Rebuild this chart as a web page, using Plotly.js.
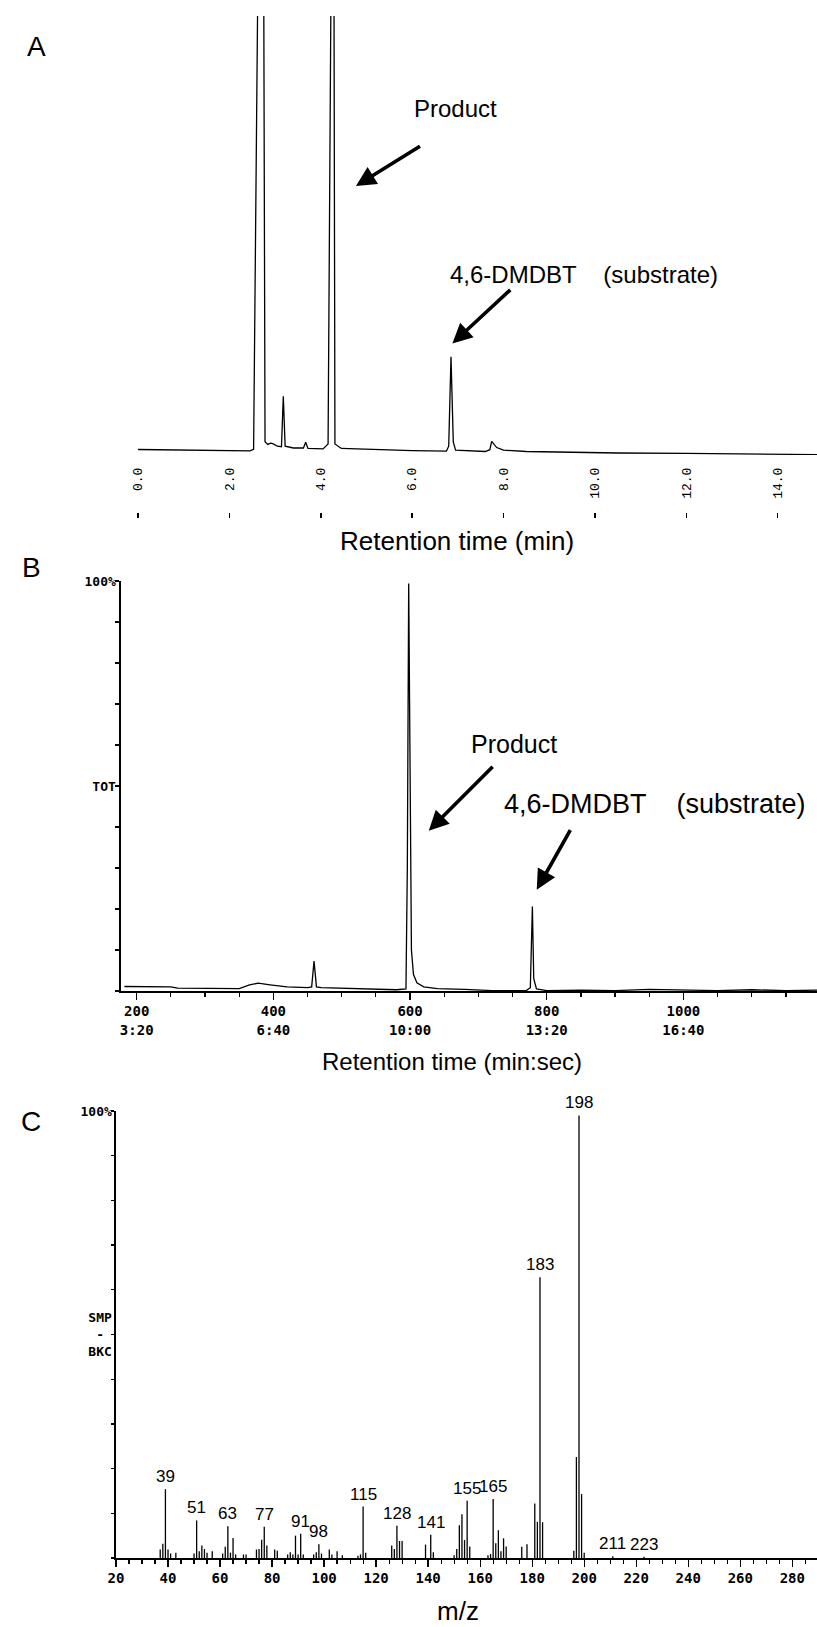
<!DOCTYPE html>
<html>
<head>
<meta charset="utf-8">
<script src="https://cdn.plot.ly/plotly-3.0.1.min.js"></script>
<style>html,body{margin:0;padding:0;background:#fff;}#chart{width:817px;height:1627px;}</style>
</head>
<body>
<div id="chart"></div>
<script>
// ---------- Panel A : GC chromatogram ----------
const A_time = [0, 1.0, 2.0, 2.45, 2.53, 2.66, 2.74, 2.78, 2.84, 2.9, 2.95, 3.05, 3.14, 3.18, 3.22, 3.4, 3.62, 3.67, 3.72, 4.05, 4.16, 4.25, 4.28, 4.31, 4.45, 5.0, 6.0, 6.75, 6.8, 6.85, 6.9, 6.95, 7.6, 7.7, 7.74, 7.85, 8.0, 8.5, 9.5, 10.5, 12.0, 13.0, 14.0, 14.86];
const A_signal = [1.25, 1.15, 1.0, 0.95, 1.3, 150, 150, 3.0, 2.4, 2.7, 2.6, 2.0, 1.9, 13.4, 2.0, 1.6, 1.6, 2.9, 1.5, 1.4, 2.5, 150, 150, 2.5, 1.5, 1.3, 1.0, 0.9, 2.0, 22.4, 3.0, 1.1, 0.8, 1.2, 3.1, 1.7, 1.1, 0.8, 0.6, 0.45, 0.35, 0.3, 0.15, 0.1];
const A_ticks = [0, 2, 4, 6, 8, 10, 12, 14];

// ---------- Panel B : GC-MS total ion chromatogram ----------
const B_scan = [182, 250, 260, 330, 350, 365, 378, 395, 420, 450, 456, 459.5, 463, 470, 520, 560, 580, 594, 596, 598, 600, 602, 605, 610, 620, 640, 680, 700, 720, 770, 776, 779, 781, 785, 800, 850, 900, 950, 1000, 1050, 1100, 1150, 1200];
const B_tic = [1.1, 1.0, 0.7, 0.5, 0.6, 1.5, 1.9, 1.5, 1.0, 0.8, 1.0, 7.3, 1.0, 0.8, 0.6, 0.5, 0.3, 0.5, 30, 99.4, 40, 10, 4, 2, 1.0, 0.6, 0.4, 0.3, 0.1, 0.1, 0.8, 20.6, 3, 0.5, 0.1, 0.2, 0.1, 0.4, 0.2, 0.1, 0.3, 0.1, 0.2];
const B_tickVals = [200, 400, 600, 800, 1000];
const B_tickText = ['200<br>3:20', '400<br>6:40', '600<br>10:00', '800<br>13:20', '1000<br>16:40'];

// ---------- Panel C : mass spectrum ----------
const C_mz = [37, 38, 39, 40, 41, 43, 50, 51, 52, 53, 54, 55, 57, 61, 62, 63, 64, 65, 66, 69, 70, 74, 75, 76, 77, 78, 81, 82, 86, 87, 88, 89, 90, 91, 92, 96, 97, 98, 99, 102, 103, 105, 107, 113, 114, 115, 116, 126, 127, 128, 129, 130, 139, 141, 142, 150, 151, 152, 153, 154, 155, 156, 163, 164, 165, 166, 167, 168, 169, 170, 176, 178, 181, 182, 183, 184, 196, 197, 198, 199, 200, 211, 223];
const C_int = [1.9, 3.2, 15.4, 1.9, 1.0, 1.2, 1.0, 8.4, 1.5, 2.8, 2.0, 1.2, 1.5, 1.0, 2.5, 7.1, 1.2, 4.5, 0.8, 0.8, 0.8, 1.9, 2.0, 4.1, 7.0, 2.8, 1.9, 1.6, 0.8, 1.3, 0.8, 5.0, 0.8, 5.4, 0.8, 0.8, 1.3, 3.1, 1.0, 1.9, 0.8, 1.5, 0.6, 0.5, 0.8, 11.5, 1.2, 2.8, 2.0, 7.2, 3.8, 3.8, 3.0, 5.2, 1.3, 0.6, 2.0, 7.3, 9.8, 4.0, 12.8, 2.6, 0.6, 0.9, 13.2, 3.3, 6.2, 1.5, 4.4, 2.6, 2.5, 3.1, 12.2, 8.1, 62.8, 8.0, 1.6, 22.6, 99.0, 14.3, 1.2, 0.4, 0.3];
const C_peakLabels = [39, 51, 63, 77, 91, 98, 115, 128, 141, 155, 165, 183, 198, 211, 223];
const C_tickVals = [20, 40, 60, 80, 100, 120, 140, 160, 180, 200, 220, 240, 260, 280];

// ---------- build ----------
const W = 817, H = 1627;
const fx = p => p / W;
const fy = p => 1 - p / H;

const stickX = [], stickY = [];
C_mz.forEach((m, i) => { stickX.push(m, m, null); stickY.push(0, C_int[i], null); });

const traces = [
  {x: A_time, y: A_signal, xaxis: 'x', yaxis: 'y', type: 'scatter', mode: 'lines',
   line: {color: '#000', width: 1.3}, hoverinfo: 'skip'},
  // empty trace so that the tick-only axis of panel A gets drawn
  {x: [], y: [], xaxis: 'x2', yaxis: 'y', type: 'scatter', mode: 'lines', hoverinfo: 'skip'},
  {x: B_scan, y: B_tic, xaxis: 'x3', yaxis: 'y3', type: 'scatter', mode: 'lines',
   line: {color: '#000', width: 1.3}, hoverinfo: 'skip'},
  {x: stickX, y: stickY, xaxis: 'x4', yaxis: 'y4', type: 'scatter', mode: 'lines',
   connectgaps: false, line: {color: '#000', width: 1.3}, hoverinfo: 'skip'}
];

const mono = {family: 'DejaVu Sans Mono, Liberation Mono, monospace', size: 13, color: '#000', weight: 'bold'};
const sans = 'Liberation Sans, Arial, sans-serif';

const annotations = [];
// panel letters
[['A', 36, 47], ['B', 31, 567], ['C', 31, 1121]].forEach(([t, px, py]) => annotations.push({
  text: t, xref: 'paper', yref: 'paper', x: fx(px), y: fy(py), xanchor: 'center', yanchor: 'middle',
  showarrow: false, font: {family: sans, size: 28, color: '#000'}}));
// axis titles
[['Retention time (min)', 457, 541, 26], ['Retention time (min:sec)', 452, 1061, 24], ['m/z', 458, 1611, 26]].forEach(([t, px, py, s]) => annotations.push({
  text: t, xref: 'paper', yref: 'paper', x: fx(px), y: fy(py), xanchor: 'center', yanchor: 'middle',
  showarrow: false, font: {family: sans, size: s, color: '#000'}}));
// compound labels
const sp = '\u00A0\u00A0\u00A0\u00A0';
[['Product', 455, 109, 24], ['4,6-DMDBT' + sp + '(substrate)', 584, 275, 24],
 ['Product', 514, 744, 25], ['4,6-DMDBT' + sp + '(substrate)', 655, 804, 27]].forEach(([t, px, py, s]) => annotations.push({
  text: t, xref: 'paper', yref: 'paper', x: fx(px), y: fy(py), xanchor: 'center', yanchor: 'middle',
  showarrow: false, font: {family: sans, size: s, color: '#000'}}));
// arrows (head in data coordinates, tail offset in px)
[['x', 'y', 4.77, 61.3, 65.5, -40.5], ['x', 'y', 6.88, 25.4, 59.4, -55],
 ['x3', 'y3', 627.4, 39.1, 65.4, -65.5], ['x3', 'y3', 785.4, 24.7, 34.4, -61]].forEach(([xr, yr, x, y, ax, ay]) => annotations.push({
  text: '', xref: xr, yref: yr, x: x, y: y, ax: ax, ay: ay, showarrow: true,
  arrowhead: 2, arrowsize: 1.1, arrowwidth: 3.6, arrowcolor: '#000', standoff: 0, startstandoff: 0}));
// m/z peak labels
C_peakLabels.forEach(m => {
  const i = C_mz.indexOf(m);
  annotations.push({text: String(m), xref: 'x4', yref: 'y4', x: m, y: C_int[i], xanchor: 'center', yanchor: 'bottom',
    yshift: 1, showarrow: false, font: {family: sans, size: 17, color: '#000'}});
});

const layout = {
  width: W, height: H, margin: {l: 0, r: 0, t: 0, b: 0},
  paper_bgcolor: '#fff', plot_bgcolor: 'rgba(0,0,0,0)', showlegend: false,
  annotations: annotations,
  // Panel A
  xaxis: {domain: [fx(138), 1], range: [0, 14.86], anchor: 'y', showgrid: false, zeroline: false, showline: false,
          tickmode: 'array', tickvals: A_ticks, ticktext: A_ticks.map(v => v.toFixed(1)), tickangle: -90, ticks: '',
          ticklabelstandoff: 9, tickfont: {family: 'Liberation Mono, DejaVu Sans Mono, monospace', size: 13, color: '#000'}},
  yaxis: {domain: [fy(455), fy(16)], range: [0, 100], anchor: 'x', visible: false},
  xaxis2: {overlaying: 'x', anchor: 'free', position: fy(512), range: [0, 14.86], showgrid: false, zeroline: false,
           showline: false, showticklabels: false, tickmode: 'array', tickvals: A_ticks, ticks: 'outside',
           ticklen: 5, tickwidth: 1.5, tickcolor: '#000'},
  // Panel B
  xaxis3: {domain: [fx(121), 1], range: [177, 1195.5], anchor: 'y3', showgrid: false, zeroline: false,
           showline: true, linecolor: '#000', linewidth: 1.6, ticks: 'outside', ticklen: 7, tickwidth: 1.3, tickcolor: '#000',
           tickmode: 'array', tickvals: B_tickVals, ticktext: B_tickText, tickfont: Object.assign({}, mono, {size: 14}),
           minor: {tickmode: 'linear', tick0: 0, dtick: 50, ticks: 'outside', ticklen: 4, tickwidth: 1.2, tickcolor: '#000'}},
  yaxis3: {domain: [fy(991), fy(581)], range: [0, 100], anchor: 'x3', showgrid: false, zeroline: false,
           showline: true, linecolor: '#000', linewidth: 1.6, ticks: 'outside', ticklen: 4, tickwidth: 1.2, tickcolor: '#000',
           tickmode: 'array', tickvals: [0, 10, 20, 30, 40, 50, 60, 70, 80, 90, 100],
           ticktext: ['', '', '', '', '', 'TOT', '', '', '', '', '100%'], tickfont: mono, ticklabelstandoff: -3},
  // Panel C
  xaxis4: {domain: [fx(116), 1], range: [20, 289.5], anchor: 'y4', showgrid: false, zeroline: false,
           showline: true, linecolor: '#000', linewidth: 1.6, ticks: 'outside', ticklen: 7, tickwidth: 1.3, tickcolor: '#000',
           tickmode: 'array', tickvals: C_tickVals, ticktext: C_tickVals.map(String), tickfont: Object.assign({}, mono, {size: 14}),
           minor: {tickmode: 'linear', tick0: 0, dtick: 5, ticks: 'outside', ticklen: 4, tickwidth: 1.2, tickcolor: '#000'}},
  yaxis4: {domain: [fy(1558), fy(1111)], range: [0, 100], anchor: 'x4', showgrid: false, zeroline: false,
           showline: true, linecolor: '#000', linewidth: 1.6, ticks: 'outside', ticklen: 3, tickwidth: 1.2, tickcolor: '#000',
           tickmode: 'array', tickvals: [0, 10, 20, 30, 40, 50, 60, 70, 80, 90, 100],
           ticktext: ['', '', '', '', '', 'SMP<br>\u00A0-\u00A0<br>BKC', '', '', '', '', '100%'], tickfont: mono, ticklabelstandoff: -3}
};

Plotly.newPlot('chart', traces, layout, {staticPlot: true, displayModeBar: false});
</script>
</body>
</html>
